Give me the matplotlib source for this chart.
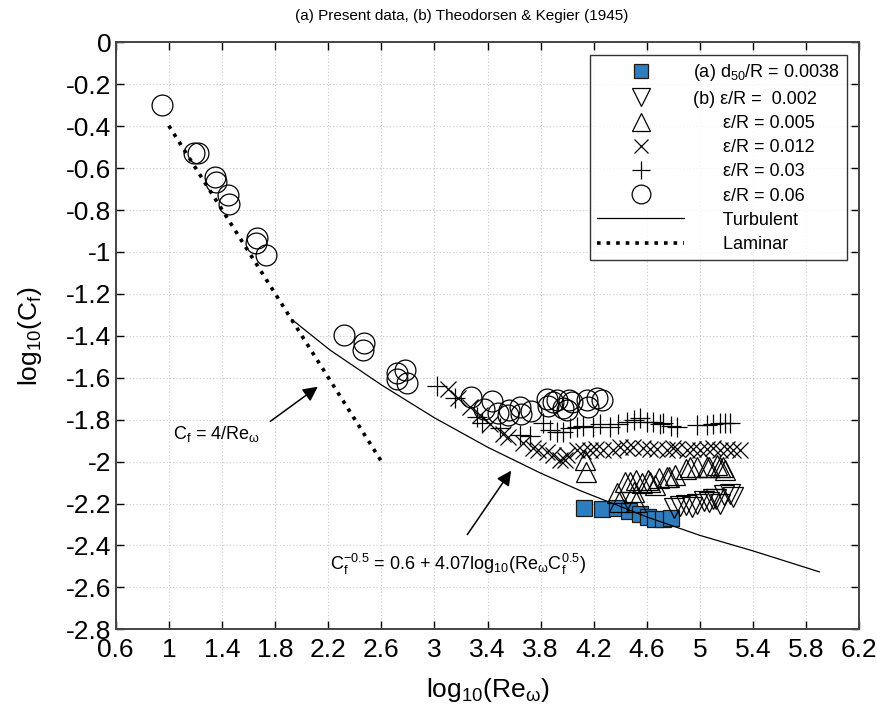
import numpy as np
import matplotlib
matplotlib.use("Agg")
import matplotlib.pyplot as plt

plt.rcParams['font.family'] = ['Liberation Sans', 'DejaVu Sans']
plt.rcParams['mathtext.fontset'] = 'custom'
plt.rcParams['mathtext.rm'] = 'Liberation Sans'
plt.rcParams['mathtext.it'] = 'Liberation Sans'

# (a) present data, d50/R = 0.0038
sq_x = [4.130, 4.260, 4.375, 4.462, 4.548, 4.605, 4.663, 4.720, 4.779]
sq_y = [-2.223, -2.228, -2.219, -2.235, -2.250, -2.263, -2.274, -2.274, -2.271]

# (b) Theodorsen & Kegier, eps/R = 0.002
dn_x = [4.807, 4.850, 4.894, 4.940, 4.980, 5.030, 5.067, 5.100, 5.124, 5.152, 5.182, 5.225, 5.250]
dn_y = [-2.223, -2.210, -2.207, -2.215, -2.200, -2.190, -2.192, -2.180, -2.176, -2.200, -2.160, -2.155, -2.170]

# eps/R = 0.005
up_x = [4.135, 4.142, 4.374, 4.389, 4.433, 4.474, 4.505, 4.519, 4.520, 4.560, 4.605, 4.625, 4.663,
        4.692, 4.750, 4.765, 4.813, 4.894, 4.926, 4.980, 5.051, 5.067, 5.127, 5.152, 5.176, 5.190]
up_y = [-1.993, -2.049, -2.152, -2.195, -2.096, -2.096, -2.144, -2.195, -2.088, -2.100, -2.088, -2.096, -2.112,
        -2.080, -2.073, -2.073, -2.064, -2.033, -2.025, -2.025, -2.025, -2.025, -2.017, -2.025, -2.025, -2.040]

# eps/R = 0.012
xx_x = [3.105, 3.180, 3.268, 3.344, 3.420, 3.519, 3.557, 3.670, 3.745, 3.783, 3.850, 3.896, 3.947,
        3.984, 3.997, 4.072, 4.120, 4.172, 4.220, 4.272, 4.347, 4.400, 4.450, 4.498, 4.573, 4.620,
        4.675, 4.750, 4.800, 4.825, 4.900, 4.950, 5.000, 5.050, 5.100, 5.150, 5.200, 5.250, 5.302]
xx_y = [-1.652, -1.699, -1.739, -1.778, -1.820, -1.866, -1.882, -1.913, -1.937, -1.945, -1.955, -1.969, -1.993,
        -1.993, -1.969, -1.945, -1.950, -1.945, -1.940, -1.945, -1.945, -1.930, -1.935, -1.929, -1.935, -1.940,
        -1.940, -1.945, -1.935, -1.940, -1.945, -1.940, -1.945, -1.940, -1.935, -1.945, -1.940, -1.945, -1.945]

# eps/R = 0.03
pl_x = [3.018, 3.155, 3.319, 3.357, 3.495, 3.645, 3.720, 3.820, 3.870, 3.920, 3.971, 4.020, 4.072,
        4.120, 4.197, 4.250, 4.323, 4.380, 4.449, 4.500, 4.549, 4.600, 4.649, 4.700, 4.724, 4.780,
        4.825, 4.976, 5.050, 5.100, 5.152, 5.190, 5.227]
pl_y = [-1.640, -1.699, -1.786, -1.818, -1.842, -1.874, -1.878, -1.818, -1.850, -1.860, -1.858, -1.840, -1.834,
        -1.830, -1.834, -1.820, -1.834, -1.820, -1.810, -1.800, -1.794, -1.810, -1.810, -1.820, -1.818, -1.830,
        -1.834, -1.826, -1.826, -1.820, -1.818, -1.818, -1.818]

# eps/R = 0.06
ci_x = [0.952, 1.192, 1.222, 1.348, 1.353, 1.443, 1.456, 1.662, 1.657, 1.730,
        2.322, 2.473, 2.460, 2.716, 2.779, 2.716, 2.792,
        3.274, 3.432, 3.374, 3.482, 3.565, 3.557, 3.645, 3.650, 3.726, 3.846, 3.858, 3.896,
        3.921, 3.971, 4.016, 4.001, 4.034, 4.148, 4.160, 4.223, 4.260]
ci_y = [-0.299, -0.527, -0.530, -0.644, -0.667, -0.729, -0.773, -0.935, -0.959, -1.015,
        -1.397, -1.436, -1.468, -1.576, -1.564, -1.608, -1.624,
        -1.694, -1.710, -1.751, -1.770, -1.754, -1.778, -1.741, -1.773, -1.759, -1.703, -1.735, -1.715,
        -1.707, -1.746, -1.707, -1.754, -1.715, -1.707, -1.739, -1.699, -1.707]

# curves
turb_x = [1.926, 2.214, 2.603, 3.0, 3.4, 3.8, 4.1, 4.6, 5.0, 5.4, 5.9]
turb_y = [-1.322, -1.468, -1.635, -1.791, -1.931, -2.055, -2.139, -2.264, -2.352, -2.426, -2.526]
lam_x = [1.0, 2.6]
lam_y = [-0.398, -1.998]

xticks = [0.6, 1, 1.4, 1.8, 2.2, 2.6, 3, 3.4, 3.8, 4.2, 4.6, 5, 5.4, 5.8, 6.2]
xlabels = ['0.6', '1', '1.4', '1.8', '2.2', '2.6', '3', '3.4', '3.8', '4.2', '4.6', '5', '5.4', '5.8', '6.2']
yticks = [0, -0.2, -0.4, -0.6, -0.8, -1, -1.2, -1.4, -1.6, -1.8, -2, -2.2, -2.4, -2.6, -2.8]
ylabels = ['0', '-0.2', '-0.4', '-0.6', '-0.8', '-1', '-1.2', '-1.4', '-1.6', '-1.8', '-2', '-2.2', '-2.4', '-2.6', '-2.8']

fig = plt.figure(figsize=(8.78, 7.06), dpi=100)
ax = fig.add_axes([0.1318, 0.1086, 0.8469, 0.8315])

mk = dict(linestyle='none', color='black', mfc='none', mew=0.9)
ax.plot(sq_x, sq_y, 's', linestyle='none', ms=11, mfc='#2e7dbf', mec='#1a1a1a', mew=0.9,
        label='(a) d$_{50}$/R = 0.0038')
ax.plot(dn_x, dn_y, 'v', ms=15, label='(b) \u03b5/R =  0.002', **mk)
ax.plot(up_x, up_y, '^', ms=15, label='      \u03b5/R = 0.005', **mk)
ax.plot(xx_x, xx_y, 'x', ms=11, label='      \u03b5/R = 0.012', **mk)
ax.plot(pl_x, pl_y, '+', ms=15, label='      \u03b5/R = 0.03', **mk)
ax.plot(ci_x, ci_y, 'o', ms=15, label='      \u03b5/R = 0.06', **mk)
ax.plot(turb_x, turb_y, '-', color='black', lw=0.9, label='      Turbulent')
ax.plot(lam_x, lam_y, ':', color='black', lw=2.6, label='      Laminar')

ax.set_xlim(0.6, 6.2)
ax.set_ylim(-2.8, 0)
ax.set_xticks(xticks)
ax.set_xticklabels(xlabels)
ax.set_yticks(yticks)
ax.set_yticklabels(ylabels)
ax.tick_params(direction='in', length=6, width=1, labelsize=19, top=True, right=True,
               labeltop=False, labelright=False)
ax.tick_params(axis='x', pad=6)
ax.tick_params(axis='y', pad=3)
ax.grid(True, linestyle=(0, (1, 2)), color='#c8c8c8', lw=0.8)
for s in ax.spines.values():
    s.set_color('#444444')
    s.set_linewidth(1.4)

ax.set_xlabel('log$_{10}$(Re$_{\\omega}$)', fontsize=19, labelpad=10)
ax.set_ylabel('log$_{10}$(C$_f$)', fontsize=19, labelpad=16)
fig.text(0.526, 0.978, '(a) Present data, (b) Theodorsen & Kegier (1945)', ha='center', va='center', fontsize=11)

leg = ax.legend(loc='upper right', bbox_to_anchor=(0.983, 0.978), borderaxespad=0, fontsize=13,
                frameon=True, fancybox=False, edgecolor='black', handlelength=4.8, handletextpad=0.5,
                labelspacing=0.4, borderpad=0.4, markerscale=0.9)
leg.get_frame().set_linewidth(1.0)

ax.text(1.03, -1.87, 'C$_f$ = 4/Re$_{\\omega}$', fontsize=13, ha='left', va='center')
ax.annotate('', xy=(2.139, -1.635), xytext=(1.747, -1.816),
            arrowprops=dict(arrowstyle='-|>', color='black', lw=1.1, mutation_scale=22))
ax.text(3.18, -2.49, 'C$_f^{-0.5}$ = 0.6 + 4.07log$_{10}$(Re$_{\\omega}$C$_f^{0.5}$)', fontsize=13,
        ha='center', va='center')
ax.annotate('', xy=(3.59, -2.032), xytext=(3.236, -2.359),
            arrowprops=dict(arrowstyle='-|>', color='black', lw=1.1, mutation_scale=22))

fig.savefig('out.png', dpi=100)
